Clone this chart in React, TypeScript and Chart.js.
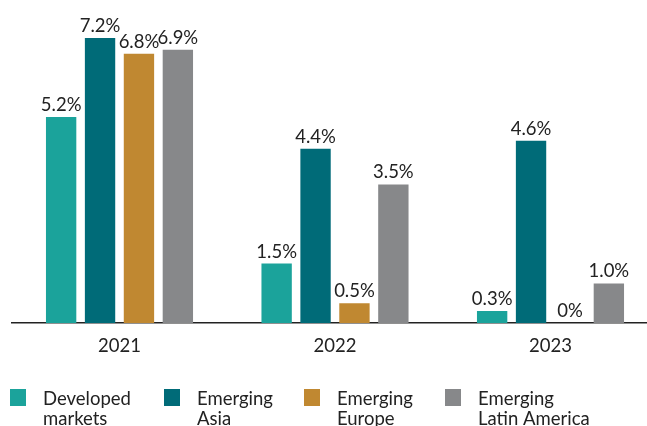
import React, { useEffect, useRef } from "react";
import { Chart, registerables } from "chart.js";

Chart.register(...registerables);

const categories = ["2021", "2022", "2023"];
const seriesNames = ["Developed markets", "Emerging Asia", "Emerging Europe", "Emerging Latin America"];
const legendLines = [
  ["Developed", "markets"],
  ["Emerging", "Asia"],
  ["Emerging", "Europe"],
  ["Emerging", "Latin America"],
];
const developedMarkets = [5.2, 1.5, 0.3];
const emergingAsia = [7.2, 4.4, 4.6];
const emergingEurope = [6.8, 0.5, 0];
const emergingLatinAmerica = [6.9, 3.5, 1.0];
const seriesValues = [developedMarkets, emergingAsia, emergingEurope, emergingLatinAmerica];
const colors = ["#1ba39b", "#006b78", "#c08831", "#87888a"];

const FONT = "Lato, 'Open Sans', sans-serif";
const TEXT = "#222222";

const fmt = (v: number) => (v === 0 ? "0%" : v.toFixed(1) + "%");

const valueLabels = {
  id: "valueLabels",
  afterDatasetsDraw(chart: any) {
    const ctx = chart.ctx;
    ctx.save();
    ctx.font = `18.5px ${FONT}`;
    ctx.fillStyle = TEXT;
    ctx.textAlign = "center";
    ctx.textBaseline = "alphabetic";
    chart.data.datasets.forEach((ds: any, i: number) => {
      const meta = chart.getDatasetMeta(i);
      meta.data.forEach((el: any, j: number) => {
        ctx.fillText(fmt(ds.data[j]), el.x, el.y - 6);
      });
    });
    ctx.restore();
  },
};

const customLegend = {
  id: "customLegend",
  afterDraw(chart: any) {
    const ctx = chart.ctx;
    const xs = [10, 164, 304, 445];
    ctx.save();
    ctx.font = `18.5px ${FONT}`;
    ctx.textAlign = "left";
    ctx.textBaseline = "alphabetic";
    chart.data.datasets.forEach((ds: any, i: number) => {
      const x = xs[i];
      ctx.fillStyle = ds.backgroundColor;
      ctx.fillRect(x, 389, 16, 17);
      ctx.fillStyle = TEXT;
      legendLines[i].forEach((line, k) => {
        ctx.fillText(line, x + 33, 405 + k * 20);
      });
    });
    ctx.restore();
  },
};

export default function App() {
  const ref = useRef<HTMLCanvasElement | null>(null);
  useEffect(() => {
    if (!ref.current) return;
    const chart = new Chart(ref.current, {
      type: "bar",
      data: {
        labels: categories,
        datasets: seriesNames.map((name, i) => ({
          label: name,
          data: seriesValues[i],
          backgroundColor: colors[i],
          borderWidth: 0,
          categoryPercentage: 0.7222,
          barPercentage: 0.78,
        })),
      },
      options: {
        responsive: false,
        animation: false,
        layout: { padding: { left: 11.75, right: 1.75, top: 6.2, bottom: 0 } },
        plugins: { legend: { display: false }, tooltip: { enabled: false } },
        scales: {
          x: {
            grid: { display: true, drawOnChartArea: false, drawTicks: false },
            border: { display: true, color: "#222222", width: 1.5 },
            ticks: { color: TEXT, font: { family: FONT, size: 18.5 }, padding: 12 },
            afterFit: (scale: any) => {
              scale.height = 103;
            },
          },
          y: {
            display: false,
            min: 0,
            max: 8,
          },
        },
      },
      plugins: [valueLabels, customLegend],
    });
    return () => chart.destroy();
  }, []);
  return (
    <div style={{ position: "absolute", left: 0, top: 0, width: 647, height: 426, overflow: "hidden", background: "#fff" }}>
      <canvas ref={ref} width={660} height={426} style={{ display: "block" }} />
    </div>
  );
}
